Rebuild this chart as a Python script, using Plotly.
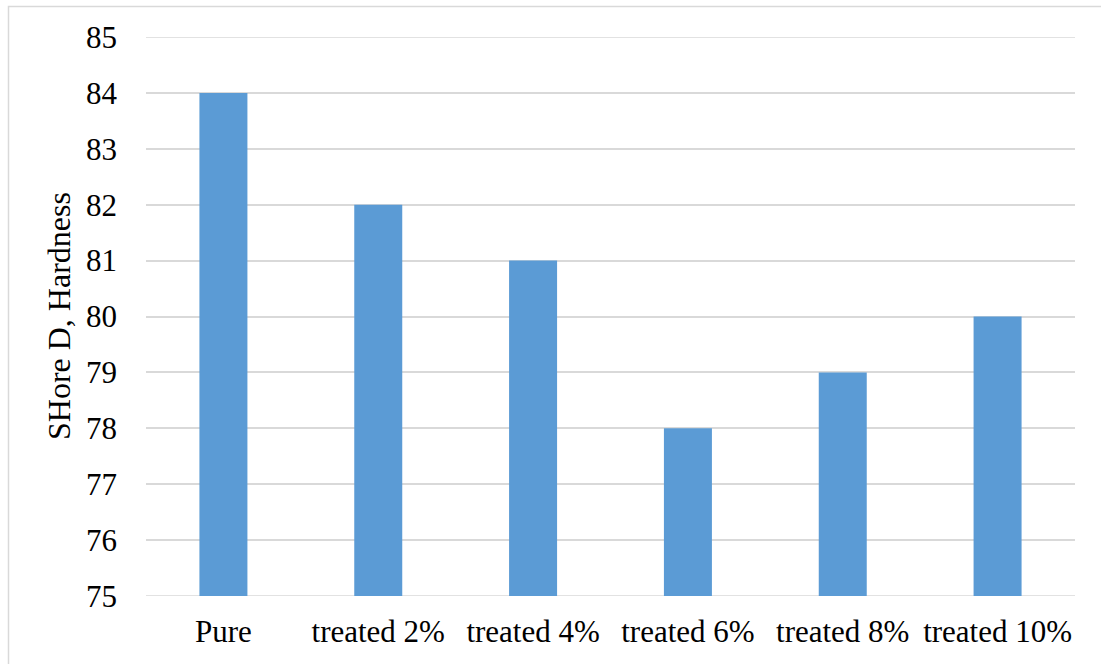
import plotly.graph_objects as go

categories = ["Pure", "treated 2%", "treated 4%", "treated 6%", "treated 8%", "treated 10%"]
hardness = [84, 82, 81, 78, 79, 80]
y_ticks = [75, 76, 77, 78, 79, 80, 81, 82, 83, 84, 85]

W, H = 1101, 664
ML, MR, MT, MB = 146, 26, 37, 68
pw = W - ML - MR
ph = H - MT - MB

def px_x(x):
    return (x - ML) / pw

def px_y(y):
    return (H - MB - y) / ph

font = "Liberation Serif, Times New Roman, serif"
grid = "#D9D9D9"

fig = go.Figure(
    go.Bar(
        x=categories,
        y=[v - 75 for v in hardness],
        base=75,
        marker=dict(color="#5B9BD5", line=dict(width=0)),
        width=0.31,
        hoverinfo="x+y",
    )
)

# frame lines at both ends of the value range
edge_lines = [
    dict(type="line", xref="paper", yref="y", x0=0, x1=1, y0=v, y1=v,
         line=dict(color=grid, width=1.5), layer="below")
    for v in (y_ticks[0], y_ticks[-1])
]

fig.update_layout(
    width=W,
    height=H,
    margin=dict(l=ML, r=MR, t=MT, b=MB),
    paper_bgcolor="white",
    plot_bgcolor="white",
    showlegend=False,
    font=dict(family=font, size=31, color="black"),
    xaxis=dict(
        showgrid=False,
        showline=False,
        ticks="",
        tickfont=dict(size=31),
        ticklabelstandoff=14,
    ),
    yaxis=dict(
        range=[75, 85],
        tickvals=y_ticks,
        showgrid=True,
        gridcolor=grid,
        gridwidth=1.5,
        zeroline=False,
        showline=False,
        ticks="",
        tickfont=dict(size=31),
        ticklabelstandoff=28,
    ),
    shapes=[
        dict(
            type="rect", xref="paper", yref="paper",
            x0=px_x(8.5), x1=px_x(1110), y0=px_y(680), y1=px_y(6.5),
            line=dict(color=grid, width=1.5), fillcolor="rgba(0,0,0,0)",
            layer="below",
        ),
    ] + edge_lines,
    annotations=[
        dict(
            text="SHore D, Hardness", xref="paper", yref="paper",
            x=px_x(59), y=px_y(316), showarrow=False, textangle=-90,
            xanchor="center", yanchor="middle",
            font=dict(family=font, size=32, color="black"),
        )
    ],
)

fig.write_html("out.html")
